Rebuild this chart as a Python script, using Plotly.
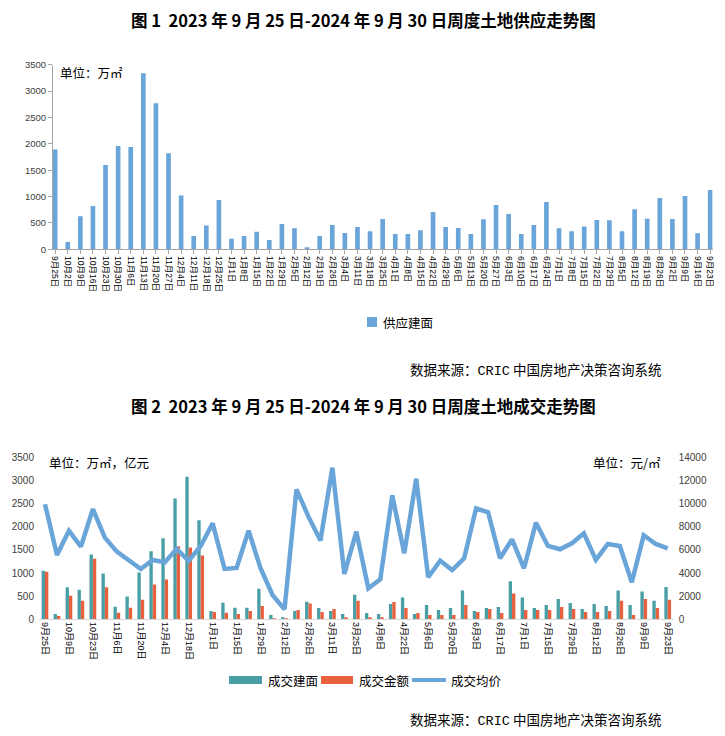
import plotly.graph_objects as go

weeks = ["9月25日", "10月2日", "10月9日", "10月16日", "10月23日", "10月30日", "11月6日", "11月13日",
         "11月20日", "11月27日", "12月4日", "12月11日", "12月18日", "12月25日", "1月1日", "1月8日",
         "1月15日", "1月22日", "1月29日", "2月5日", "2月12日", "2月19日", "2月26日", "3月4日",
         "3月11日", "3月18日", "3月25日", "4月1日", "4月8日", "4月15日", "4月22日", "4月29日",
         "5月6日", "5月13日", "5月20日", "5月27日", "6月3日", "6月10日", "6月17日", "6月24日",
         "7月1日", "7月8日", "7月15日", "7月22日", "7月29日", "8月5日", "8月12日", "8月19日",
         "8月26日", "9月2日", "9月9日", "9月16日", "9月23日"]

# 供应建面 (万㎡)
supply = [1890, 140, 625, 820, 1600, 1960, 1940, 3340, 2770, 1820, 1020, 250, 450, 935, 200, 250,
          335, 177, 480, 400, 40, 253, 461, 310, 423, 341, 575, 290, 290, 360, 708, 423,
          404, 290, 569, 840, 670, 290, 461, 897, 398, 341, 430, 556, 550, 341, 758, 581,
          973, 575, 1011, 303, 1125]

# 成交建面 (万㎡)
deal_area = [1050, 115, 690, 640, 1400, 990, 270, 490, 1010, 1470, 1750, 2610, 3080, 2140, 180, 360,
             250, 250, 660, 95, 30, 180, 380, 245, 180, 115, 530, 135, 115, 330, 470, 115,
             310, 200, 245, 620, 180, 245, 265, 820, 470, 245, 310, 440, 350, 225, 330, 290,
             620, 310, 600, 400, 700]

# 成交金额 (亿元)
deal_amount = [1030, 72, 510, 400, 1310, 690, 140, 250, 420, 750, 860, 1580, 1550, 1380, 160, 140,
               115, 180, 290, 5, 5, 200, 340, 158, 223, 30, 400, 30, 30, 374, 245, 137,
               94, 94, 94, 310, 158, 223, 137, 560, 202, 202, 202, 266, 223, 158, 158, 180,
               400, 94, 440, 245, 420]

# 成交均价 (元/㎡)
deal_price = [9950, 5560, 7660, 6280, 9530, 7060, 5850, 5070, 4350, 5130, 4930, 6080, 5040, 6340, 8290, 4350,
              4440, 7660, 4410, 2100, 860, 11230, 8870, 6800, 13100, 3920, 7570, 2680, 3460, 10710, 5700, 12150,
              3630, 5070, 4260, 5270, 9590, 9250, 5270, 6910, 4410, 8350, 6340, 6050, 6570, 7430, 5130, 6510,
              6340, 3200, 7260, 6510, 6130]

title1 = "图 1  2023 年 9 月 25 日-2024 年 9 月 30 日周度土地供应走势图"
title2 = "图 2  2023 年 9 月 25 日-2024 年 9 月 30 日周度土地成交走势图"
source = "数据来源：<span style='font-family:Liberation Mono'>CRIC</span> 中国房地产决策咨询系统"

# page body has an 8px margin; the figure is sized to fill the rest of the window
OFF = 8
W, H = 725 - OFF, 736 - OFF
idx = list(range(len(weeks)))

BLUE = "#6AA5DA"
TEAL = "#4A9FA6"
ORANGE = "#E8613F"
CJK = "Noto Sans CJK SC"
NUM = "Liberation Sans, Noto Sans CJK SC"


def px(x):
    return (x - OFF) / W


def py(y):
    return 1 - (y - OFF) / H


fig = go.Figure()

fig.add_trace(go.Bar(x=idx, y=supply, name="供应建面", marker_color=BLUE, marker_line_width=0,
                     width=0.37, xaxis="x", yaxis="y", showlegend=False))

fig.add_trace(go.Bar(x=idx, y=deal_area, name="成交建面", marker_color=TEAL, marker_line_width=0,
                     width=0.28, offset=-0.28, xaxis="x2", yaxis="y2", showlegend=False))
fig.add_trace(go.Bar(x=idx, y=deal_amount, name="成交金额", marker_color=ORANGE, marker_line_width=0,
                     width=0.28, offset=0.0, xaxis="x2", yaxis="y2", showlegend=False))
fig.add_trace(go.Scatter(x=idx, y=deal_price, name="成交均价", mode="lines",
                         line=dict(color=BLUE, width=4.5), xaxis="x2", yaxis="y3", showlegend=False))

axis_common = dict(showgrid=False, zeroline=False, automargin=False)

fig.update_layout(
    width=W, height=H,
    margin=dict(l=0, r=0, t=0, b=0, pad=0, autoexpand=False),
    paper_bgcolor="white", plot_bgcolor="white",
    barmode="group",
    showlegend=False,
    font=dict(family=CJK, color="#000000"),
    xaxis=dict(domain=[px(53), px(712.7)], range=[-0.17, 52.2], tickmode="array", tickvals=idx,
               ticktext=weeks, tickangle=90, tickfont=dict(size=8.5, family=NUM, color="#000000"),
               showline=True, linecolor="#A6A6A6", linewidth=1, ticks="outside", ticklen=4,
               tickcolor="#A6A6A6", anchor="y", **axis_common),
    yaxis=dict(domain=[py(249.3), py(64.7)], range=[0, 3500], dtick=500, tickformat="d",
               tickfont=dict(size=9.5, family=NUM, color="#404040"),
               showline=True, linecolor="#A6A6A6", linewidth=1, ticks="outside", ticklen=4,
               tickcolor="#A6A6A6", anchor="x", **axis_common),
    xaxis2=dict(domain=[px(39), px(673.7)], range=[-0.5, 52.5], tickmode="array", tickvals=idx[::2],
                ticktext=weeks[::2], tickangle=90, tickfont=dict(size=9, family=NUM, color="#000000"),
                showline=True, linecolor="#D9D9D9", linewidth=1, ticks="", anchor="y2", **axis_common),
    yaxis2=dict(domain=[py(619.3), py(457.3)], range=[0, 3500], dtick=500, tickformat="d",
                tickfont=dict(size=10, family=NUM, color="#404040"), showline=False,
                ticklabelstandoff=4, anchor="x2", **axis_common),
    yaxis3=dict(domain=[py(619.3), py(457.3)], range=[0, 14000], dtick=2000, tickformat="d",
                overlaying="y2", side="right",
                tickfont=dict(size=10, family=NUM, color="#404040"), showline=False,
                ticklabelstandoff=4, anchor="x2", **axis_common),
)

annotations = [
    dict(text="<b>%s</b>" % title1, x=px(363), y=py(20), font=dict(size=16.5, family=CJK)),
    dict(text="<b>%s</b>" % title2, x=px(363), y=py(406), font=dict(size=16.5, family=CJK)),
    dict(text="单位：万㎡", x=px(58), y=py(72), xanchor="left", font=dict(size=12.5)),
    dict(text="单位：万㎡，亿元", x=px(47), y=py(462), xanchor="left", font=dict(size=12.5)),
    dict(text="单位：元/㎡", x=px(663), y=py(462), xanchor="right", font=dict(size=12.5)),
    dict(text=source, x=px(663), y=py(369), xanchor="right", font=dict(size=13.5)),
    dict(text=source, x=px(663), y=py(719), xanchor="right", font=dict(size=13.5)),
    dict(text="供应建面", x=px(381), y=py(322), xanchor="left", font=dict(size=12.5)),
    dict(text="成交建面", x=px(266), y=py(680), xanchor="left", font=dict(size=12.5)),
    dict(text="成交金额", x=px(357), y=py(680), xanchor="left", font=dict(size=12.5)),
    dict(text="成交均价", x=px(449), y=py(680), xanchor="left", font=dict(size=12.5)),
]
for a in annotations:
    a.setdefault("xanchor", "center")
    a.update(xref="paper", yref="paper", yanchor="middle", showarrow=False)
fig.update_layout(annotations=annotations)

shapes = [
    dict(type="rect", x0=px(367), x1=px(377), y0=py(327), y1=py(317), fillcolor=BLUE, line_width=0),
    dict(type="rect", x0=px(229), x1=px(262), y0=py(684), y1=py(676), fillcolor=TEAL, line_width=0),
    dict(type="rect", x0=px(321), x1=px(353), y0=py(684), y1=py(676), fillcolor=ORANGE, line_width=0),
    dict(type="line", x0=px(412), x1=px(446), y0=py(680), y1=py(680), line=dict(color=BLUE, width=4)),
]
for s in shapes:
    s.update(xref="paper", yref="paper")
fig.update_layout(shapes=shapes)

fig.write_html("out.html")
